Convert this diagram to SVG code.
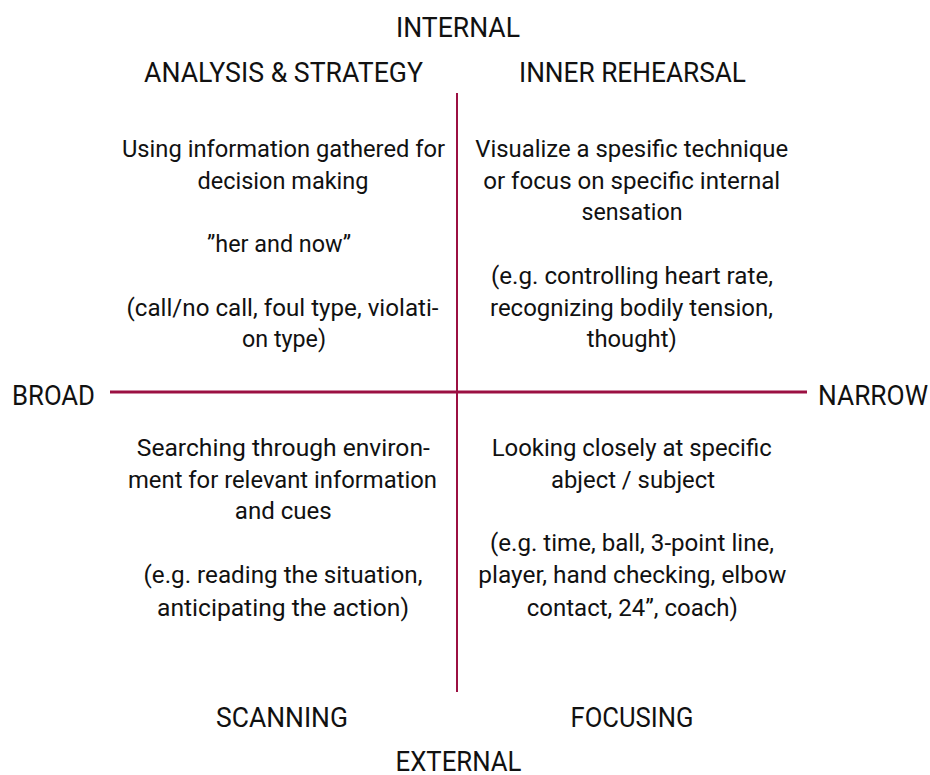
<svg xmlns="http://www.w3.org/2000/svg" width="930" height="775" viewBox="0 0 930 775">
  <style>
    text { font-family: Roboto, "Liberation Sans", sans-serif; fill: #111; text-anchor: middle; }
    .head { font-size: 28px; }
    .body { font-size: 23.5px; }
    .axis { stroke: #9b1042; fill: none; }
  </style>
  <rect width="930" height="775" fill="#fff"/>

  <!-- crossing axes -->
  <g id="connectors">
    <line class="axis" x1="457" y1="93" x2="457" y2="692" stroke-width="2"/>
    <line class="axis" x1="110" y1="392" x2="807" y2="392" stroke-width="3"/>
  </g>

  <!-- axis end labels -->
  <g id="internal"><text class="head" x="458" y="37" textLength="124" lengthAdjust="spacingAndGlyphs">INTERNAL</text></g>
  <g id="external"><text class="head" x="458.5" y="771" textLength="126" lengthAdjust="spacingAndGlyphs">EXTERNAL</text></g>
  <g id="broad"><text class="head" x="53.5" y="405" textLength="83" lengthAdjust="spacingAndGlyphs">BROAD</text></g>
  <g id="narrow"><text class="head" x="873" y="405" textLength="110" lengthAdjust="spacingAndGlyphs">NARROW</text></g>

  <!-- upper left quadrant -->
  <g id="analysis-strategy">
    <text class="head" x="283.5" y="82" textLength="279" lengthAdjust="spacingAndGlyphs">ANALYSIS &amp; STRATEGY</text>
    <text class="body" x="283.5" y="157" textLength="323" lengthAdjust="spacingAndGlyphs">Using information gathered for</text>
    <text class="body" x="283" y="188.7" textLength="171" lengthAdjust="spacingAndGlyphs">decision making</text>
    <text class="body" x="279" y="252" textLength="144" lengthAdjust="spacingAndGlyphs">”her and now”</text>
    <text class="body" x="282.5" y="315.5" textLength="312" lengthAdjust="spacingAndGlyphs">(call/no call, foul type, violati-</text>
    <text class="body" x="284" y="347.2" textLength="84" lengthAdjust="spacingAndGlyphs">on type)</text>
  </g>

  <!-- upper right quadrant -->
  <g id="inner-rehearsal">
    <text class="head" x="632.5" y="82" textLength="227" lengthAdjust="spacingAndGlyphs">INNER REHEARSAL</text>
    <text class="body" x="631.7" y="157" textLength="313" lengthAdjust="spacingAndGlyphs">Visualize a spesific technique</text>
    <text class="body" x="631.7" y="188.7" textLength="297" lengthAdjust="spacingAndGlyphs">or focus on specific internal</text>
    <text class="body" x="632" y="220.4" textLength="101" lengthAdjust="spacingAndGlyphs">sensation</text>
    <text class="body" x="632" y="283.8" textLength="282" lengthAdjust="spacingAndGlyphs">(e.g. controlling heart rate,</text>
    <text class="body" x="631.5" y="315.5" textLength="283" lengthAdjust="spacingAndGlyphs">recognizing bodily tension,</text>
    <text class="body" x="631.7" y="347.2" textLength="90" lengthAdjust="spacingAndGlyphs">thought)</text>
  </g>

  <!-- lower left quadrant -->
  <g id="scanning">
    <text class="body" x="283.3" y="456" textLength="293" lengthAdjust="spacingAndGlyphs">Searching through environ-</text>
    <text class="body" x="282.5" y="487.7" textLength="309" lengthAdjust="spacingAndGlyphs">ment for relevant information</text>
    <text class="body" x="283.3" y="519.4" textLength="97" lengthAdjust="spacingAndGlyphs">and cues</text>
    <text class="body" x="283" y="582.8" textLength="279" lengthAdjust="spacingAndGlyphs">(e.g. reading the situation,</text>
    <text class="body" x="283" y="616" textLength="252" lengthAdjust="spacingAndGlyphs">anticipating the action)</text>
    <text class="head" x="282" y="726.5" textLength="132" lengthAdjust="spacingAndGlyphs">SCANNING</text>
  </g>

  <!-- lower right quadrant -->
  <g id="focusing">
    <text class="body" x="631.7" y="456" textLength="280" lengthAdjust="spacingAndGlyphs">Looking closely at specific</text>
    <text class="body" x="633" y="487.7" textLength="164" lengthAdjust="spacingAndGlyphs">abject / subject</text>
    <text class="body" x="632" y="551" textLength="284" lengthAdjust="spacingAndGlyphs">(e.g. time, ball, 3-point line,</text>
    <text class="body" x="632.3" y="582.8" textLength="308" lengthAdjust="spacingAndGlyphs">player, hand checking, elbow</text>
    <text class="body" x="632.3" y="616" textLength="211" lengthAdjust="spacingAndGlyphs">contact, 24”, coach)</text>
    <text class="head" x="632" y="726.5" textLength="123" lengthAdjust="spacingAndGlyphs">FOCUSING</text>
  </g>
</svg>
